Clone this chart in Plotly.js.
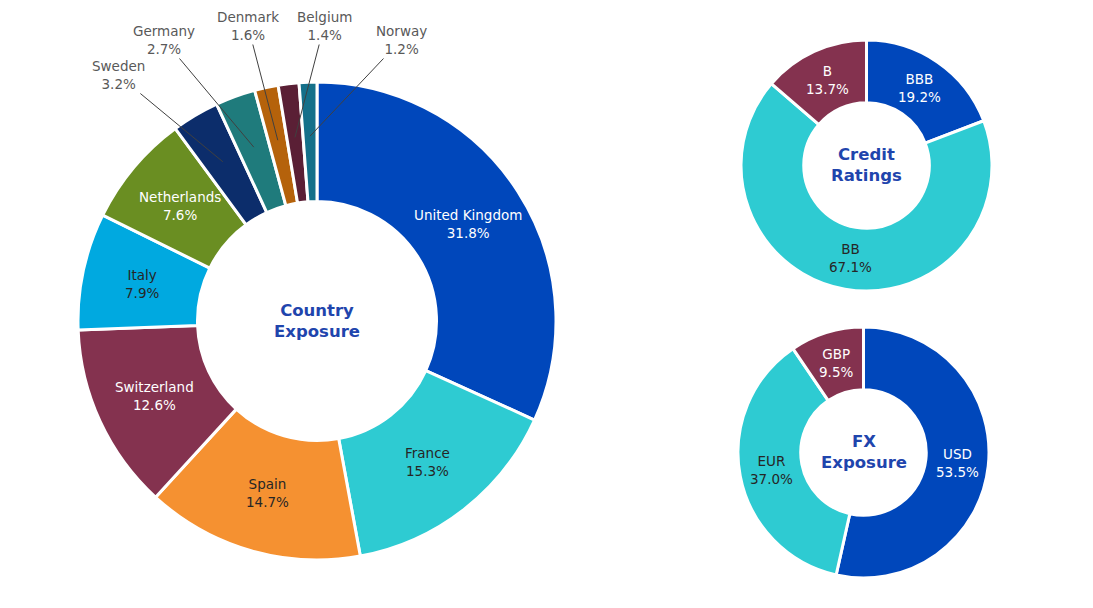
<!DOCTYPE html>
<html>
<head>
<meta charset="utf-8">
<script src="https://cdn.plot.ly/plotly-3.0.1.min.js"></script>
<style>html,body{margin:0;padding:0;background:#fff;}#chart{width:1093px;height:608px;}</style>
</head>
<body>
<div id="chart"></div>
<script>
// ---- Data ----
const countries = ["United Kingdom","France","Spain","Switzerland","Italy","Netherlands","Sweden","Germany","Denmark","Belgium","Norway"];
const countryShares = [31.8,15.3,14.7,12.6,7.9,7.6,3.2,2.7,1.6,1.4,1.2];
const ratings = ["BBB","BB","B"];
const ratingShares = [19.2,67.1,13.7];
const currencies = ["USD","EUR","GBP"];
const currencyShares = [53.5,37.0,9.5];

// ---- Styles ----
const W = 1093, H = 608;
const countryColors = ["#0047BB","#2ECBD2","#F59131","#84324F","#00A9E0","#6A8E22","#0C2D6B","#1F7B7C","#B5620B","#5A1F35","#14708A"];
const countryText = ["#ffffff","#262626","#262626","#ffffff","#262626","#ffffff"];
const ratingColors = ["#0047BB","#2ECBD2","#84324F"];
const ratingText = ["#ffffff","#262626","#ffffff"];
const currencyColors = ["#0047BB","#2ECBD2","#84324F"];
const currencyText = ["#ffffff","#262626","#ffffff"];
const FONT = "DejaVu Sans, Verdana, sans-serif";
const TITLE_COLOR = "#1F45AD";
const HOLE = 0.5;

// geometry in pixels (center x, center y from top, radius)
const geoMain = {cx:317, cy:321, r:239};
const geoCredit = {cx:866.5, cy:165.5, r:125.5};
const geoFX = {cx:863.5, cy:452.5, r:125.5};

function domainOf(g){
  return {x:[(g.cx-g.r)/W,(g.cx+g.r)/W], y:[1-(g.cy+g.r)/H, 1-(g.cy-g.r)/H]};
}
function px2paper(x,y){ return {x:x/W, y:1-y/H}; }

function donut(labels, values, colors, g){
  return {
    type:"pie", labels:labels, values:values, sort:false, direction:"clockwise", rotation:0,
    hole:HOLE, domain:domainOf(g), textinfo:"none", hoverinfo:"label+percent",
    marker:{colors:colors, line:{color:"#ffffff", width:3}}, showlegend:false
  };
}

// mid-angle point of slice i at radius rr
function sliceMid(values, i, g, rr){
  const total = values.reduce((a,b)=>a+b,0);
  let cum = 0; for(let k=0;k<i;k++) cum += values[k];
  const frac = (cum + values[i]/2)/total;
  const ang = frac*2*Math.PI;
  return {x: g.cx + rr*Math.sin(ang), y: g.cy - rr*Math.cos(ang)};
}
function pct(values, i){
  const total = values.reduce((a,b)=>a+b,0);
  return (values[i]/total*100).toFixed(1)+"%";
}

const annotations = [];
function insideLabels(labels, values, g, textColors, count){
  const rr = g.r*(1+HOLE)/2;
  for(let i=0;i<count;i++){
    const p = sliceMid(values, i, g, rr);
    const pp = px2paper(p.x, p.y);
    annotations.push({xref:"paper", yref:"paper", x:pp.x, y:pp.y, xanchor:"center", yanchor:"middle",
      text: labels[i]+"<br>"+pct(values,i), showarrow:false,
      font:{family:FONT, size:13.5, color:textColors[i]}});
  }
}
insideLabels(countries, countryShares, geoMain, countryText, 6);
insideLabels(ratings, ratingShares, geoCredit, ratingText, 3);
insideLabels(currencies, currencyShares, geoFX, currencyText, 3);

// outside labels with leader lines for the small country slices
const outsideLabelPos = {"Sweden":[118,75],"Germany":[164,40],"Denmark":[248,26],"Belgium":[324,26],"Norway":[401,40]};
for(let i=6;i<countries.length;i++){
  const head = sliceMid(countryShares, i, geoMain, 185);
  const pos = outsideLabelPos[countries[i]];
  const hp = px2paper(head.x, head.y);
  annotations.push({xref:"paper", yref:"paper", x:hp.x, y:hp.y,
    ax: pos[0]-head.x, ay: pos[1]-head.y, axref:"pixel", ayref:"pixel",
    showarrow:true, arrowhead:0, arrowwidth:1, arrowcolor:"#404040", standoff:0,
    text: countries[i]+"<br>"+pct(countryShares,i),
    font:{family:FONT, size:13.5, color:"#595959"}});
}

// center titles
function centerTitle(g, text){
  const pp = px2paper(g.cx, g.cy);
  annotations.push({xref:"paper", yref:"paper", x:pp.x, y:pp.y, xanchor:"center", yanchor:"middle",
    text:"<b>"+text+"</b>", showarrow:false, font:{family:FONT, size:16.5, color:TITLE_COLOR}});
}
centerTitle(geoMain, "Country<br>Exposure");
centerTitle(geoCredit, "Credit<br>Ratings");
centerTitle(geoFX, "FX<br>Exposure");

const data = [
  donut(countries, countryShares, countryColors, geoMain),
  donut(ratings, ratingShares, ratingColors, geoCredit),
  donut(currencies, currencyShares, currencyColors, geoFX)
];
const layout = {
  width:W, height:H, margin:{l:0,r:0,t:0,b:0},
  paper_bgcolor:"#ffffff", plot_bgcolor:"#ffffff",
  font:{family:FONT, size:13, color:"#262626"},
  showlegend:false, annotations:annotations
};
Plotly.newPlot("chart", data, layout, {displayModeBar:false, staticPlot:true});
</script>
</body>
</html>
